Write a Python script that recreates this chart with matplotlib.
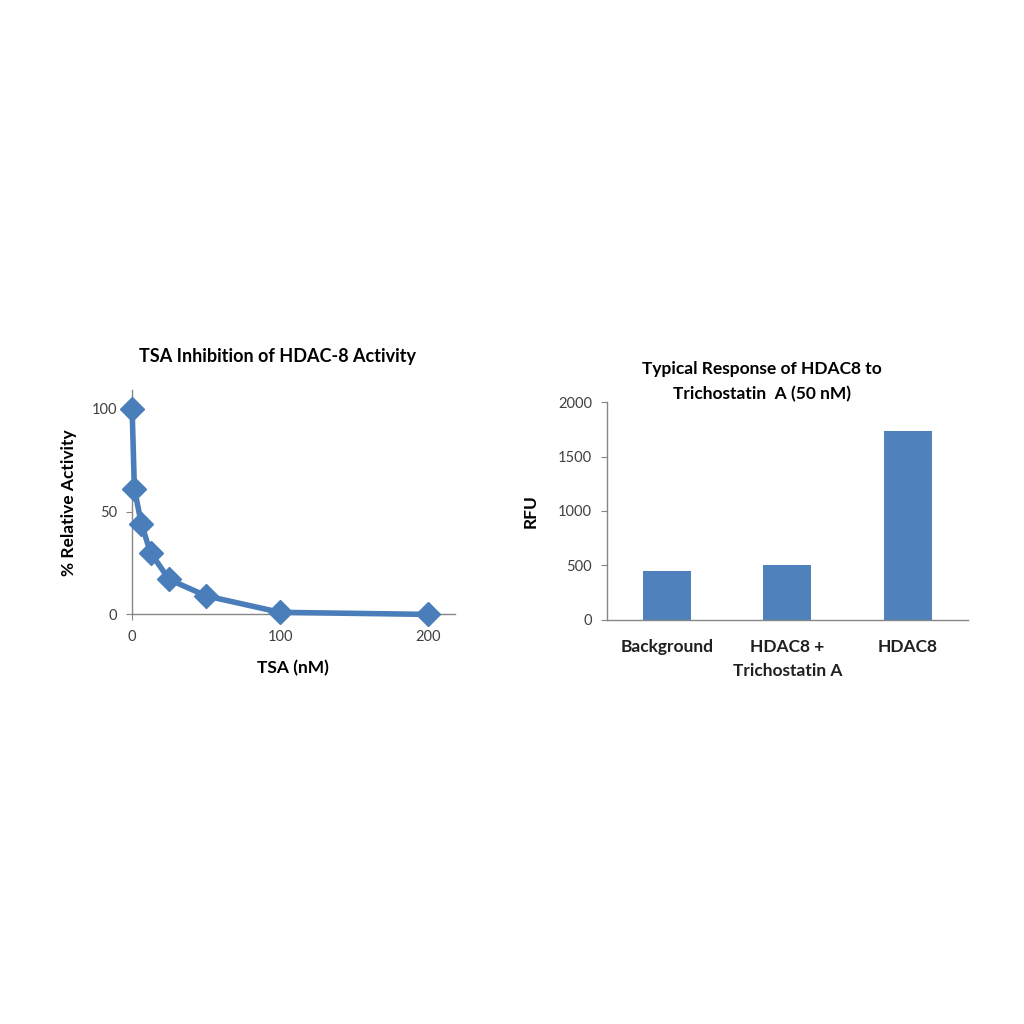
import numpy as np
import matplotlib.pyplot as plt

# TSA dose response (% relative activity)
tsa_nm = [0, 1.5625, 6.25, 12.5, 25, 50, 100, 200]
rel_activity = [100, 61, 44, 30, 17, 9, 1, 0]

# RFU bar chart
categories = ["Background", "HDAC8 +\nTrichostatin A", "HDAC8"]
rfu = [450, 505, 1740]

blue = "#4a7ebb"
grey = "#868686"
plt.rcParams['font.family'] = ['Lato', 'DejaVu Sans']

fig = plt.figure(figsize=(10.24, 10.24), dpi=100)

# left panel
ax1 = fig.add_axes([0.129, 0.400, 0.315, 0.219])
ax1.plot(tsa_nm, rel_activity, color=blue, lw=4, marker='D', ms=12,
         mfc=blue, mec=blue, solid_joinstyle='round', clip_on=False, zorder=3)
ax1.set_xlim(0, 218)
ax1.set_ylim(0, 109)
ax1.set_xticks([0, 100, 200])
ax1.set_yticks([0, 50, 100])
ax1.set_title("TSA Inhibition of HDAC-8 Activity", fontsize=13, fontweight='bold',
              pad=20, x=0.45)
ax1.set_xlabel("TSA (nM)", fontsize=12.5, fontweight='bold', labelpad=12)
ax1.set_ylabel("% Relative Activity", fontsize=12.5, fontweight='bold', labelpad=10)

# right panel
ax2 = fig.add_axes([0.593, 0.395, 0.352, 0.212])
x = np.arange(len(categories))
ax2.bar(x, rfu, width=0.4, color="#4f81bd")
ax2.set_xlim(-0.5, 2.5)
ax2.set_ylim(0, 2000)
ax2.set_yticks([0, 500, 1000, 1500, 2000])
ax2.set_xticks(x)
ax2.set_xticklabels(categories, fontsize=12.5, fontweight='bold', linespacing=1.6)
ax2.set_title("Typical Response of HDAC8 to\nTrichostatin  A (50 nM)", fontsize=12.5,
              fontweight='bold', pad=2, linespacing=1.7, x=0.43)
ax2.set_ylabel("RFU", fontsize=12.5, fontweight='bold', labelpad=14)

for ax in (ax1, ax2):
    for s in ("top", "right"):
        ax.spines[s].set_visible(False)
    for s in ("left", "bottom"):
        ax.spines[s].set_color(grey)
        ax.spines[s].set_linewidth(1)
    ax.tick_params(colors=grey, labelcolor="#404040", labelsize=10.5, length=4, pad=7)
ax2.tick_params(axis='x', length=0, labelcolor="#202020", labelsize=12.5, pad=14)

fig.savefig("out.png", dpi=100, facecolor="white")
